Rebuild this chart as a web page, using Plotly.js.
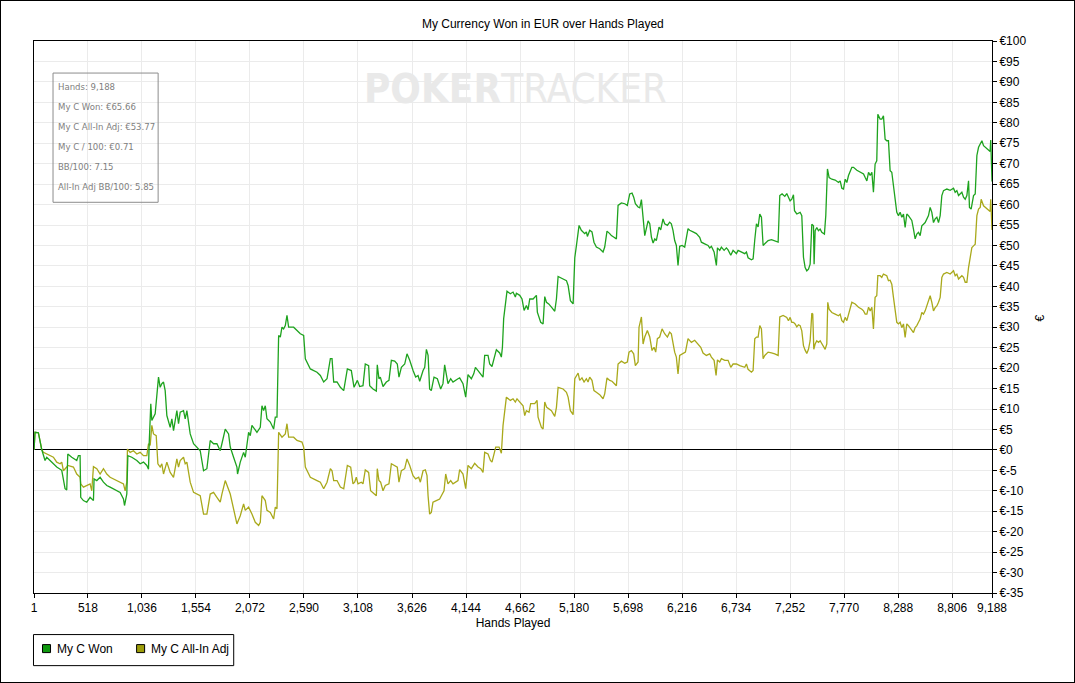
<!DOCTYPE html>
<html>
<head>
<meta charset="utf-8">
<script src="https://cdn.plot.ly/plotly-3.0.1.min.js"></script>
<style>
  html, body { margin: 0; padding: 0; background: #fff; }
  #chart { width: 1075px; height: 683px; box-sizing: border-box; border: 1px solid #000; }
</style>
</head>
<body>
<div id="chart"></div>
<script>
// ---- Data ----
const wonHands = [1,11,43,59,75,107,123,155,187,219,267,283,299,315,325,363,411,427,443,449,475,507,539,571,577,603,635,667,699,731,795,827,859,869,891,901,939,987,1019,1051,1083,1099,1105,1121,1131,1163,1195,1211,1227,1243,1259,1275,1307,1323,1339,1371,1387,1403,1435,1451,1467,1483,1499,1531,1563,1595,1627,1659,1691,1723,1755,1787,1803,1835,1867,1883,1915,1947,1953,1979,2011,2027,2059,2075,2091,2139,2171,2187,2203,2219,2235,2267,2299,2315,2331,2347,2363,2379,2395,2411,2427,2443,2491,2523,2555,2587,2603,2651,2715,2747,2779,2811,2843,2859,2875,2907,2939,2971,
3006,3044,3070,3102,3124,3156,3178,3210,3220,3252,3284,3293,3309,3322,3348,3380,3405,3428,3460,3485,3501,3524,3556,3578,3604,3636,3661,3684,3700,3732,3748,3764,3780,3795,3811,3837,3869,3901,3923,3939,3971,3997,4019,4067,4083,4115,4141,4163,4195,4218,4234,4259,4285,4307,4323,4355,4371,4393,4435,4467,4483,4493,4505,4537,4569,4595,4617,4627,4659,4681,4701,4723,4739,4755,4787,4819,4828,4860,4883,4899,4915,4937,4963,4995,5011,5027,5075,5107,5123,5145,5171,5187,5203,5228,
5250,5266,5282,5298,5308,5330,5352,5371,5394,5426,5458,5474,5496,5522,5538,5563,5586,5602,5634,5666,5691,5714,5736,5752,5768,5794,5810,5826,5842,5858,5890,5906,5922,5938,5954,5969,5995,6011,6033,6049,6075,6097,6113,6129,6145,6161,6177,6193,6216,6241,6273,6289,6321,6353,6385,6401,6433,6465,6481,6497,6523,6545,6555,6577,6593,6619,6641,6657,6683,6705,6721,6737,6753,6785,6817,6833,6849,6881,6897,6913,6929,6945,6961,6977,6993,7009,7041,7073,7105,7137,7153,7175,7201,
7220,7236,7252,7268,7284,7294,7316,7348,7364,7380,7396,7412,7428,7444,7460,7476,7482,7492,7508,7524,7540,7556,7581,7594,7610,7626,7652,7684,7716,7732,7748,7764,7780,7796,7812,7844,7860,7892,7924,7956,7972,7988,8004,8020,8036,8051,8067,8083,8093,8115,8131,8147,8163,8179,8195,8211,8227,8243,8259,8275,8291,8307,8323,8339,8355,8371,8387,8403,8419,8435,8451,8467,8483,8499,8515,8531,8547,8579,8595,8611,8627,8643,8659,8675,8691,8707,8723,8755,8787,8819,8835,8851,8867,8899,8915,8931,8947,8963,8972,8988,9011,9027,9043,9059,9075,9091,9107,9123,9139,9155,9170,9176,9188];
const wonValues = [0,4.3,4.2,2.3,0.1,-2.6,-1.8,-2.6,-3.4,-4.2,-5.0,-7.5,-9.5,-9.8,-1.0,-1.8,-2.6,-1.4,-1.4,-11.6,-12.4,-12.8,-11.6,-12.4,-7.1,-7.5,-6.7,-7.9,-8.7,-9.1,-10.0,-10.4,-12.0,-13.6,-10.8,-1.4,-1.8,-2.6,-3.4,-3.0,-3.8,-4.7,1.1,11.3,7.2,8.8,17.8,15.3,16.2,16.6,14.5,8.4,5.5,7.6,4.7,9.6,6.4,9.2,9.6,7.6,9.6,7.2,3.9,1.5,0.7,-0.2,-5.1,-4.6,2.3,1.5,1.5,-0.2,1.5,5.1,3.9,0.7,-1.8,-4.2,-5.9,-3.0,-0.6,-1.8,4.3,3.5,6.0,4.3,5.5,10.8,9.6,10.8,7.6,6.8,5.1,8.0,8.0,28.0,27.6,30.0,29.6,30.4,32.9,30.0,30.0,29.2,28.4,28.0,22.3,19.8,19.0,18.2,16.6,17.4,22.3,22.3,16.6,16.6,15.3,14.5,
19.8,19.4,15.3,17.0,15.5,15.7,21.0,20.6,15.7,14.9,14.4,20.8,17.4,17.8,15.5,16.6,17.0,21.9,21.7,21.0,17.8,20.2,21.0,23.5,21.9,19.4,17.8,18.2,16.8,19.4,20.2,24.6,23.1,14.9,14.5,17.8,17.4,14.9,16.2,20.8,16.2,17.4,16.6,17.4,17.6,16.2,12.9,18.4,17.4,18.6,20.2,19.4,18.6,17.8,23.1,23.1,21.0,20.4,24.5,23.7,22.7,25.1,32.1,38.8,38.2,38.6,37.4,38.3,37.8,36.9,34.1,35.3,34.3,36.9,36.9,37.8,33.7,31.2,30.8,37.5,36.1,35.7,34.9,33.9,36.9,42.4,41.8,41.4,40.2,36.5,35.7,47.0,50.0,54.9,
53.7,53.3,52.9,53.3,52.2,53.7,53.3,50.8,49.6,49.2,48.4,49.6,53.5,52.9,52.4,52.0,51.6,59.8,60.4,60.2,59.8,62.6,62.8,61.8,60.2,59.4,59.2,61.2,56.1,52.4,56.0,55.3,52.0,50.6,51.6,51.2,54.5,53.8,56.5,55.3,54.9,55.7,55.3,53.7,51.2,50.0,45.1,49.8,50.0,49.6,54.1,53.7,53.3,52.9,52.0,50.8,50.4,50.0,49.4,49.8,48.4,45.1,49.4,48.8,49.6,48.8,49.4,48.9,47.6,48.8,48.4,48.0,48.8,48.4,48.0,48.4,47.0,46.5,46.7,51.4,55.3,54.5,57.7,56.9,50.0,50.4,51.2,51.4,51.1,50.8,62.2,62.6,62.0,
62.7,61.8,60.9,61.3,62.4,58.5,57.7,58.1,57.3,47.1,44.6,43.8,44.2,45.4,55.2,54.8,45.4,53.6,54.4,53.6,54.0,53.2,52.8,57.3,68.7,66.6,66.2,66.0,65.4,65.8,64.0,63.8,66.2,65.4,67.1,69.1,69.1,68.4,67.9,67.5,66.6,65.8,67.9,67.1,67.9,63.0,69.9,70.7,82.1,80.9,80.9,81.7,76.0,75.6,75.6,68.3,67.9,64.2,60.9,58.1,57.3,58.1,56.9,57.7,54.4,57.7,57.3,56.5,56.1,54.0,51.6,52.8,53.2,52.4,54.8,55.2,55.6,57.3,59.3,58.1,55.6,56.5,56.9,55.6,57.3,62.2,63.4,63.8,63.5,64.0,63.0,63.4,62.2,63.0,61.8,61.3,62.2,65.8,59.3,58.9,62.2,62.6,72.0,74.0,74.8,75.6,74.4,74.0,73.6,73.2,73.0,75.8,65.66];

const adjHands = [1,11,43,59,75,91,123,155,187,219,251,267,283,315,325,379,411,443,449,475,507,539,555,571,603,635,667,699,731,795,859,875,891,897,923,955,987,1019,1051,1083,1099,1115,1131,1147,1173,1189,1211,1227,1243,1275,1307,1339,1371,1387,1403,1435,1451,1467,1483,1499,1531,1595,1627,1659,1691,1723,1755,1787,1803,1835,1883,1915,1947,1979,2011,2027,2059,2091,2123,2155,2171,2187,2219,2235,2267,2299,2315,2331,2347,2379,2411,2427,2443,2491,2523,2571,2587,2603,2651,2715,2747,2779,2811,2843,2859,2875,2907,2939,2971,
3006,3038,3060,3076,3092,3108,3140,3156,3178,3210,3229,3261,3284,3293,3309,3325,3348,3370,3405,3428,3460,3485,3501,3524,3556,3578,3604,3636,3661,3690,3706,3732,3754,3770,3780,3795,3811,3827,3859,3891,3914,3933,3949,3971,3997,4019,4067,4083,4115,4141,4163,4195,4227,4259,4285,4307,4323,4355,4378,4393,4429,4461,4483,4499,4531,4569,4595,4617,4633,4665,4691,4707,4723,4748,4764,4803,4825,4835,4867,4883,4899,4918,4937,4963,4995,5011,5027,5075,5107,5123,5145,5171,5187,5219,
5234,5256,5276,5298,5314,5330,5352,5371,5394,5426,5458,5474,5496,5522,5544,5570,5586,5602,5634,5666,5691,5707,5730,5752,5768,5794,5803,5826,5842,5858,5883,5906,5928,5947,5963,5979,6001,6024,6049,6075,6097,6113,6129,6145,6161,6177,6193,6216,6248,6273,6305,6337,6369,6395,6417,6449,6481,6497,6523,6542,6555,6577,6593,6625,6657,6683,6705,6737,6769,6817,6833,6849,6881,6897,6913,6929,6945,6961,6977,6993,7009,7041,7073,7105,7137,7153,7185,
7220,7236,7252,7268,7284,7300,7316,7332,7348,7364,7380,7396,7412,7428,7444,7460,7469,7479,7492,7508,7524,7540,7556,7572,7588,7604,7613,7626,7652,7684,7716,7732,7748,7764,7780,7796,7812,7844,7876,7908,7940,7956,7972,7988,8004,8020,8036,8051,8067,8083,8093,8115,8131,8147,8179,8195,8211,8227,8243,8259,8275,8291,8307,8323,8339,8355,8371,8387,8419,8435,8451,8467,8483,8499,8515,8531,8547,8563,8579,8595,8611,8627,8643,8659,8675,8691,8707,8723,8755,8787,8819,8835,8851,8867,8899,8915,8931,8947,8963,8979,8995,9011,9027,9043,9059,9075,9084,9107,9123,9139,9155,9170,9176,9188];
const adjValues = [0,4.3,4.2,2.3,0.1,-0.6,-1.0,-1.4,-1.8,-3.0,-3.4,-3.0,-5.1,-4.2,-3.8,-4.2,-5.9,-6.7,-8.3,-9.1,-8.7,-8.3,-10.0,-4.1,-4.6,-5.9,-4.6,-5.9,-6.7,-7.5,-8.3,-10.0,-7.9,0.2,-0.6,-0.2,-1.0,-0.6,-1.4,-1.4,1.5,1.1,6.0,3.9,3.5,-3.4,-4.2,-3.4,-5.9,-3.0,-5.5,-6.7,-2.2,-4.2,-2.6,-1.8,-3.4,-3.0,-5.1,-7.9,-10.4,-11.2,-15.7,-15.7,-10.8,-10.4,-11.6,-12.8,-10.8,-7.5,-10.8,-14.8,-18.1,-16.1,-13.2,-14.8,-14.0,-15.7,-17.7,-18.5,-17.7,-11.2,-12.4,-14.8,-15.3,-16.9,-14.0,-14.4,4.3,3.1,3.9,6.4,3.1,3.1,2.3,1.9,0.7,-4.2,-6.7,-7.5,-7.9,-9.5,-7.9,-4.6,-5.1,-7.5,-7.5,-9.1,-9.5,
-3.8,-4.2,-8.3,-7.9,-6.7,-8.3,-7.9,-8.3,-4.9,-5.5,-10.0,-10.6,-11.2,-4.6,-7.5,-7.9,-10.0,-8.7,-8.3,-3.4,-3.8,-4.2,-7.9,-5.1,-4.6,-2.2,-3.8,-6.3,-7.1,-6.7,-7.9,-5.1,-4.9,-6.3,-11.2,-15.7,-15.3,-12.8,-12.4,-12.0,-10.9,-10.0,-5.9,-8.3,-7.5,-8.3,-7.5,-4.8,-5.9,-9.5,-3.8,-4.6,-3.3,-4.2,-4.6,-5.5,-0.6,-1.0,-2.6,-3.0,0.7,0.7,-0.8,6.0,12.9,12.1,12.5,11.7,12.5,11.7,10.8,8.4,9.6,9.2,11.3,11.3,12.1,8.0,5.5,5.1,11.7,10.4,10.0,9.6,8.2,10.4,15.3,14.9,14.1,12.9,9.6,8.6,17.4,18.8,
17.0,17.6,16.6,17.4,16.6,17.8,17.0,14.5,14.1,13.5,12.5,13.7,17.6,17.0,16.8,16.2,15.7,21.0,21.7,21.2,21.5,23.9,24.3,23.5,20.6,21.5,30.0,32.5,25.9,27.6,29.2,27.6,24.3,25.1,23.9,27.2,27.6,29.6,28.4,27.6,28.8,28.4,25.9,23.9,22.7,18.6,23.1,23.5,23.9,27.2,26.3,26.8,25.9,25.1,23.7,23.1,23.5,22.7,21.9,18.2,22.0,21.5,22.3,21.9,21.9,20.2,21.0,21.0,20.6,20.2,21.0,19.7,19.0,19.4,27.2,27.6,27.6,30.4,29.6,22.3,23.1,23.9,23.7,23.5,23.1,32.5,32.9,
32.4,31.6,32.4,31.2,31.2,30.8,30.1,30.6,30.4,29.1,25.5,24.4,23.6,24.6,26.7,33.4,33.2,24.6,25.9,26.7,26.3,26.7,25.9,25.5,24.6,25.9,36.1,34.4,33.6,33.2,32.8,33.2,31.6,31.2,32.4,31.6,33.2,36.1,35.7,34.9,34.4,34.0,33.2,33.2,34.9,34.0,34.9,29.6,37.3,37.7,42.6,42.6,42.2,43.0,42.6,41.4,41.5,40.5,37.3,34.4,31.2,30.8,31.2,29.9,30.8,27.5,30.8,30.4,29.1,28.7,29.9,30.4,31.2,32.0,33.6,33.2,34.0,35.2,36.9,37.7,36.1,34.0,34.8,35.2,36.1,37.3,42.2,43.0,43.4,43.0,43.8,42.6,43.0,41.8,42.6,42.2,41.0,41.0,44.6,47.1,49.5,49.9,50.3,57.3,58.9,59.3,61.3,59.7,59.3,58.9,58.5,58.3,61.3,53.77];

const seriesNames = ["My C Won", "My C All-In Adj"];
const xTickVals = [1,518,1036,1554,2072,2590,3108,3626,4144,4662,5180,5698,6216,6734,7252,7770,8288,8806,9188];
const xTickText = ["1","518","1,036","1,554","2,072","2,590","3,108","3,626","4,144","4,662","5,180","5,698","6,216","6,734","7,252","7,770","8,288","8,806","9,188"];
const yTickVals = [100,95,90,85,80,75,70,65,60,55,50,45,40,35,30,25,20,15,10,5,0,-5,-10,-15,-20,-25,-30,-35];
const yTickText = ["€100","€95","€90","€85","€80","€75","€70","€65","€60","€55","€50","€45","€40","€35","€30","€25","€20","€15","€10","€5","€0","€-5","€-10","€-15","€-20","€-25","€-30","€-35"];
const statLines = ["Hands: 9,188","My C Won: €65.66","My C All-In Adj: €53.77","My C / 100: €0.71","BB/100: 7.15","All-In Adj BB/100: 5.85"];

// ---- Styles ----
const lineColors = ["#1ea31e", "#a9a91b"];
const swatchColors = ["#0f990f", "#9d9d0a"];
const baseFont = { family: "Liberation Sans, Arial, sans-serif", size: 12, color: "#000" };

const traces = [
  { x: adjHands, y: adjValues, type: "scatter", mode: "lines", name: seriesNames[1],
    line: { color: lineColors[1], width: 1.3 }, hoverinfo: "skip" },
  { x: wonHands, y: wonValues, type: "scatter", mode: "lines", name: seriesNames[0],
    line: { color: lineColors[0], width: 1.3 }, hoverinfo: "skip" }
];

const plotTop = 41, plotH = 551, plotLeft = 34, plotW = 957;
const py = (imgY) => 1 - (imgY - plotTop) / plotH;
const px = (imgX) => (imgX - plotLeft) / plotW;

const annotations = [
  { xref: "paper", yref: "paper", x: px(515), y: py(89), xanchor: "center", yanchor: "middle",
    text: "<b>POKER</b>TRACKER", showarrow: false,
    font: { family: "DejaVu Sans Condensed, Liberation Sans Narrow, sans-serif", size: 40, color: "#e9e9e9" } },
  { xref: "paper", yref: "paper", x: px(1038), y: py(318), xanchor: "center", yanchor: "middle",
    text: "€", textangle: -90, showarrow: false, font: baseFont }
];
statLines.forEach((t, i) => {
  annotations.push({ xref: "paper", yref: "paper", x: px(56), y: py(86 + 20 * i),
    xanchor: "left", yanchor: "middle", text: t, showarrow: false,
    font: { family: "DejaVu Sans Condensed, sans-serif", size: 9.5, color: "#808080" } });
});

// hand-drawn legend (box, swatches, labels)
const legendSwatchX = [42, 136];
const legendTextX = [55, 149];
const shapes = [
  { type: "rect", xref: "paper", yref: "paper", x0: px(53), x1: px(158), y0: py(73), y1: py(202),
    line: { color: "#8c8c8c", width: 1 }, fillcolor: "rgba(255,255,255,0)", layer: "above" },
  { type: "rect", xref: "paper", yref: "paper", x0: px(33.5), x1: px(233.5), y0: py(633.5), y1: py(664.5),
    line: { color: "#000", width: 1 }, fillcolor: "#fff", layer: "above" }
];
seriesNames.forEach((n, i) => {
  shapes.push({ type: "rect", xref: "paper", yref: "paper",
    x0: px(legendSwatchX[i] + 0.5), x1: px(legendSwatchX[i] + 8.5), y0: py(643.5), y1: py(651.5),
    line: { color: "#000", width: 1 }, fillcolor: swatchColors[i], layer: "above" });
  annotations.push({ xref: "paper", yref: "paper", x: px(legendTextX[i]), y: py(648),
    xanchor: "left", yanchor: "middle", text: n, showarrow: false, font: baseFont });
});

const layout = {
  width: 1073, height: 681,
  margin: { l: 33, r: 82, t: 40, b: 89, pad: 0 },
  paper_bgcolor: "#fff", plot_bgcolor: "#fff",
  font: baseFont,
  showlegend: false,
  title: { text: "My Currency Won in EUR over Hands Played", font: baseFont,
           xref: "container", x: 0.505, xanchor: "center", yref: "container", y: 0.967, yanchor: "middle" },
  xaxis: {
    range: [1, 9188], tickmode: "array", tickvals: xTickVals, ticktext: xTickText,
    showgrid: true, gridcolor: "#ebebeb", gridwidth: 1,
    showline: true, linecolor: "#000", linewidth: 1, mirror: true,
    ticks: "outside", ticklen: 4, tickcolor: "#000", zeroline: false,
    tickfont: baseFont,
    title: { text: "Hands Played", font: baseFont, standoff: 4 }
  },
  yaxis: {
    range: [-35, 100], side: "right", tickmode: "array", tickvals: yTickVals, ticktext: yTickText,
    showgrid: true, gridcolor: "#ebebeb", gridwidth: 1,
    showline: true, linecolor: "#000", linewidth: 1, mirror: true,
    ticks: "outside", ticklen: 4, tickcolor: "#000",
    zeroline: true, zerolinecolor: "#000", zerolinewidth: 1,
    tickfont: baseFont
  },
  shapes: shapes,
  annotations: annotations
};

Plotly.newPlot("chart", traces, layout, { displayModeBar: false, staticPlot: true });
</script>
</body>
</html>
